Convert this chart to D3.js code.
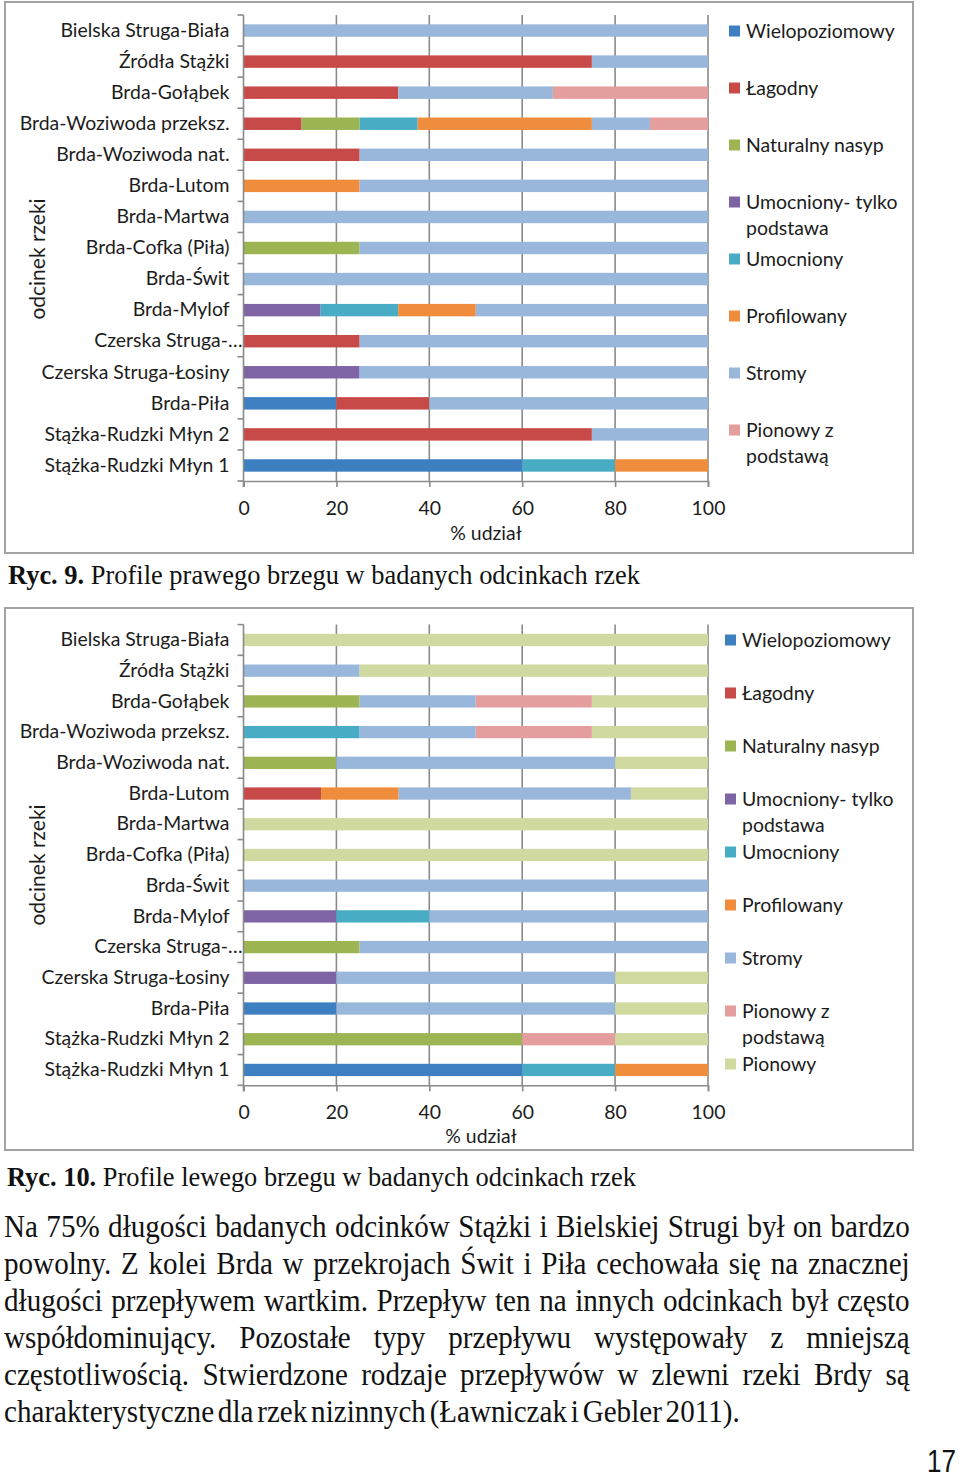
<!DOCTYPE html>
<html><head><meta charset="utf-8">
<script src="https://cdn.jsdelivr.net/npm/d3@7"></script>
<style>body{margin:0;background:#fff} svg{display:block}</style>
</head><body><svg id="c" width="960" height="1478"></svg>
<script>
// ---------------- DATA ----------------
const categories = ["Bielska Struga-Biała","Źródła Stążki","Brda-Gołąbek","Brda-Woziwoda przeksz.","Brda-Woziwoda nat.","Brda-Lutom","Brda-Martwa","Brda-Cofka (Piła)","Brda-Świt","Brda-Mylof","Czerska Struga-…","Czerska Struga-Łosiny","Brda-Piła","Stążka-Rudzki Młyn 2","Stążka-Rudzki Młyn 1"];
const seriesNames = ["Wielopoziomowy","Łagodny","Naturalny nasyp","Umocniony- tylko podstawa","Umocniony","Profilowany","Stromy","Pionowy z podstawą","Pionowy"];

// Ryc. 9 – right bank (% share)
const rightWielopoziomowy = [0,0,0,0,0,0,0,0,0,0,0,0,20,0,60];
const rightLagodny        = [0,75,33.3,12.5,25,0,0,0,0,0,25,0,20,75,0];
const rightNasyp          = [0,0,0,12.5,0,0,0,25,0,0,0,0,0,0,0];
const rightUmocPodstawa   = [0,0,0,0,0,0,0,0,0,16.6,0,25,0,0,0];
const rightUmocniony      = [0,0,0,12.5,0,0,0,0,0,16.7,0,0,0,0,20];
const rightProfilowany    = [0,0,0,37.5,0,25,0,0,0,16.7,0,0,0,0,20];
const rightStromy         = [100,25,33.3,12.5,75,75,100,75,100,50,75,75,60,25,0];
const rightPionowyPodst   = [0,0,33.4,12.5,0,0,0,0,0,0,0,0,0,0,0];

// Ryc. 10 – left bank (% share)
const leftWielopoziomowy = [0,0,0,0,0,0,0,0,0,0,0,0,20,0,60];
const leftLagodny        = [0,0,0,0,0,16.7,0,0,0,0,0,0,0,0,0];
const leftNasyp          = [0,0,25,0,20,0,0,0,0,0,25,0,0,60,0];
const leftUmocPodstawa   = [0,0,0,0,0,0,0,0,0,20,0,20,0,0,0];
const leftUmocniony      = [0,0,0,25,0,0,0,0,0,20,0,0,0,0,20];
const leftProfilowany    = [0,0,0,0,0,16.7,0,0,0,0,0,0,0,0,20];
const leftStromy         = [0,25,25,25,60,50,0,0,100,60,75,60,60,0,0];
const leftPionowyPodst   = [0,0,25,25,0,0,0,0,0,0,0,0,0,20,0];
const leftPionowy        = [100,75,25,25,20,16.6,100,100,0,0,0,20,20,20,0];

const xTicks = [0,20,40,60,80,100];
const xTitle = "% udział";
const yTitle = "odcinek rzeki";
const caption9  = ["Ryc. 9.", " Profile prawego brzegu w badanych odcinkach rzek"];
const caption10 = ["Ryc. 10.", " Profile lewego brzegu w badanych odcinkach rzek"];
const paragraph = [
  "Na 75% długości badanych odcinków Stążki i Bielskiej Strugi był on bardzo",
  "powolny. Z kolei Brda w przekrojach Świt i Piła cechowała się na znacznej",
  "długości przepływem wartkim. Przepływ ten na innych odcinkach był często",
  "współdominujący. Pozostałe typy przepływu występowały z mniejszą",
  "częstotliwością. Stwierdzone rodzaje przepływów w zlewni rzeki Brdy są",
  "charakterystyczne dla rzek nizinnych (Ławniczak i Gebler 2011)."
];
const pageNumber = "17";

// ---------------- STYLE ----------------
const COLORS = ["#3E7FC1","#C84A48","#9CB452","#7E64A4","#48ACC5","#F08D3C","#98B7DB","#E49E9E","#D0D9A0"];
const CHART_FONT = "Lato, 'Open Sans', sans-serif";
const SERIF = "'Liberation Serif', 'DejaVu Serif', serif";
const TEXT_COL = "#1c1c1c";
const GRID_COL = "#8a8a8a";

const svg = d3.select("#c");
svg.append("rect").attr("width",960).attr("height",1478).attr("fill","#fff");

// fit chart font size so the longest category label has the reference width
const probe = svg.append("text").attr("font-family",CHART_FONT).attr("font-size",20).text("Brda-Woziwoda przeksz.");
const FS = 20 * 210 / probe.node().getComputedTextLength();
probe.remove();

function drawChart(cfg){
  const g = svg.append("g");
  g.append("rect")
    .attr("x",cfg.frame[0]).attr("y",cfg.frame[1])
    .attr("width",cfg.frame[2]-cfg.frame[0]).attr("height",cfg.frame[3]-cfg.frame[1])
    .attr("fill","#fff").attr("stroke","#a3a3a3").attr("stroke-width",2);

  const x = d3.scaleLinear().domain([0,100]).range([cfg.x0,cfg.x1]);
  const y = d3.scaleBand().domain(categories).range([cfg.y0,cfg.y1]).paddingInner(0.6).paddingOuter(0.3);
  const step = y.step();

  // gridlines
  g.append("g").selectAll("line").data(xTicks.filter(t=>t>0)).join("line")
    .attr("x1",d=>x(d)).attr("x2",d=>x(d)).attr("y1",cfg.y0).attr("y2",cfg.y1)
    .attr("stroke",GRID_COL).attr("stroke-width",1.6);

  // stacked bars
  const keys = cfg.names;
  const rows = categories.map((c,i)=>{const o={cat:c}; keys.forEach((k,j)=>o[k]=cfg.series[j][i]); return o;});
  const stacked = d3.stack().keys(keys)(rows);
  g.append("g").selectAll("g").data(stacked).join("g")
    .attr("fill",(d,i)=>COLORS[i])
    .selectAll("rect").data(d=>d.filter(s=>s[1]-s[0]>0)).join("rect")
    .attr("x",d=>x(d[0])).attr("width",d=>x(d[1])-x(d[0]))
    .attr("y",d=>y(d.data.cat)).attr("height",y.bandwidth());

  // x axis
  const xa = g.append("g").attr("transform",`translate(0,${cfg.y1})`)
    .call(d3.axisBottom(x).tickValues(xTicks).tickSizeOuter(0).tickSize(6).tickPadding(14));
  xa.select(".domain").attr("stroke",GRID_COL).attr("stroke-width",1.6);
  xa.selectAll(".tick line").attr("stroke",GRID_COL).attr("stroke-width",1.6);
  xa.selectAll("text").attr("font-family",CHART_FONT).attr("font-size",FS).attr("fill",TEXT_COL);

  // y axis
  g.append("line").attr("x1",cfg.x0).attr("x2",cfg.x0).attr("y1",cfg.y0).attr("y2",cfg.y1+6)
    .attr("stroke",GRID_COL).attr("stroke-width",1.6);
  g.append("g").selectAll("line").data(d3.range(categories.length+1)).join("line")
    .attr("x1",cfg.x0-6).attr("x2",cfg.x0).attr("y1",i=>cfg.y0+i*step).attr("y2",i=>cfg.y0+i*step)
    .attr("stroke",GRID_COL).attr("stroke-width",1.6);
  const ya = g.append("g").attr("transform",`translate(${cfg.x0},0)`)
    .call(d3.axisLeft(y).tickSize(0).tickPadding(14));
  ya.select(".domain").remove();
  ya.selectAll("text").attr("font-family",CHART_FONT).attr("font-size",FS).attr("fill",TEXT_COL)
    .attr("dx",d=>d.endsWith("…")?13:0);

  // axis titles
  g.append("text").attr("x",cfg.xTitleX).attr("y",cfg.xTitleY).attr("text-anchor","middle")
    .attr("dy","0.35em").attr("font-family",CHART_FONT).attr("font-size",FS).attr("fill",TEXT_COL).text(xTitle);
  g.append("text").attr("transform",`translate(${cfg.yTitleX},${cfg.yTitleY}) rotate(-90)`)
    .attr("text-anchor","middle").attr("dy","0.35em")
    .attr("font-family",CHART_FONT).attr("font-size",FS*1.08).attr("fill",TEXT_COL).text(yTitle);

  // legend
  const lg = g.append("g");
  keys.forEach((k,i)=>{
    const cy = cfg.legY + i*cfg.legStep;
    lg.append("rect").attr("x",cfg.legX).attr("y",cy-5.5).attr("width",11).attr("height",11).attr("fill",COLORS[i]);
    const t = lg.append("text").attr("font-family",CHART_FONT).attr("font-size",FS).attr("fill",TEXT_COL);
    const words = k.split(" "); let lines=[]; let cur="";
    const m = svg.append("text").attr("font-family",CHART_FONT).attr("font-size",FS);
    words.forEach(w=>{
      const test = cur?cur+" "+w:w;
      m.text(test);
      if(m.node().getComputedTextLength()>cfg.legMaxW && cur){lines.push(cur);cur=w;} else cur=test;
    });
    lines.push(cur); m.remove();
    lines.forEach((ln,j)=>{
      t.append("tspan").attr("x",cfg.legX+17).attr("y",cy+j*cfg.legLine).attr("dy","0.35em").text(ln);
    });
  });
}

drawChart({
  frame:[5,2,913,553], x0:243.5, x1:708, y0:15, y1:481,
  names: seriesNames.slice(0,8),
  series:[rightWielopoziomowy,rightLagodny,rightNasyp,rightUmocPodstawa,rightUmocniony,rightProfilowany,rightStromy,rightPionowyPodst],
  xTitleX:486, xTitleY:533, yTitleX:38, yTitleY:259,
  legX:729, legY:31, legStep:57, legLine:26, legMaxW:160
});
drawChart({
  frame:[5,608,913,1150], x0:243.5, x1:708, y0:624.6, y1:1085.3,
  names: seriesNames,
  series:[leftWielopoziomowy,leftLagodny,leftNasyp,leftUmocPodstawa,leftUmocniony,leftProfilowany,leftStromy,leftPionowyPodst,leftPionowy],
  xTitleX:481, xTitleY:1136, yTitleX:38, yTitleY:865,
  legX:725, legY:640, legStep:53, legLine:26, legMaxW:160
});

// captions (condensed serif)
function caption(parts, x, base, width, size){
  const t = svg.append("text").attr("font-family",SERIF).attr("font-size",size).attr("fill","#111");
  t.append("tspan").attr("font-weight","bold").text(parts[0]);
  t.append("tspan").text(parts[1]);
  const L = t.node().getComputedTextLength();
  t.attr("transform",`translate(${x},${base}) scale(${width/L},1)`);
}
caption(caption9, 8, 584, 632, 27);
caption(caption10, 7, 1186, 629, 27);

// paragraph (justified, condensed)
(function(){
  const size = 31, x = 4, full = 906, step = 37, base0 = 1237, lastW = 736;
  const mk = s => svg.append("text").attr("font-family",SERIF).attr("font-size",size).attr("fill","#111").text(s);
  // condensation chosen so the (tightly set) last line fits with slightly reduced word spaces
  const last = paragraph[paragraph.length-1];
  const tl = mk(last); const Ll = tl.node().getComputedTextLength(); tl.remove();
  const lastGaps = last.split(" ").length-1;
  const c = lastW / (Ll - lastGaps*size*0.12);
  paragraph.forEach((ln,i)=>{
    const t = mk(ln);
    const L = t.node().getComputedTextLength();
    const gaps = ln.split(" ").length-1;
    const target = (i===paragraph.length-1 ? lastW : full)/c;
    t.attr("word-spacing",(target-L)/gaps).attr("transform",`translate(${x},${base0+i*step}) scale(${c},1)`);
  });
})();

// page number
(function(){
  const t = svg.append("text").attr("font-family","'Liberation Sans', Arial, sans-serif").attr("font-size",31).attr("fill","#111").text(pageNumber);
  const L = t.node().getComputedTextLength();
  t.attr("transform",`translate(927,1472) scale(${29/L},1)`);
})();
</script></body></html>
